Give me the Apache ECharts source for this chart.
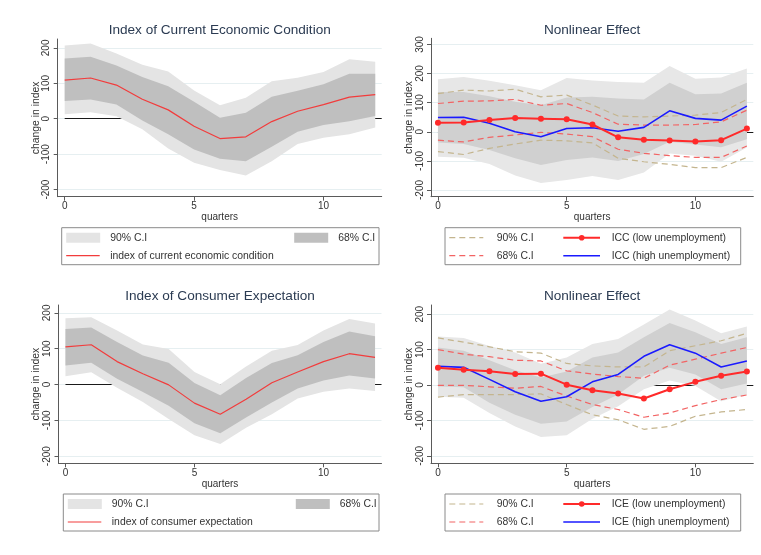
<!DOCTYPE html>
<html>
<head>
<meta charset="utf-8">
<script src="https://cdn.jsdelivr.net/npm/echarts@6/dist/echarts.min.js"></script>
<style>
  html, body { margin: 0; padding: 0; background: #fff; }
  #chart { width: 761px; height: 555px; }
</style>
</head>
<body>
<div id="chart"></div>
<script>
// Horizon (quarters after the shock) and axis tick values
const quarters = [0, 1, 2, 3, 4, 5, 6, 7, 8, 9, 10, 11, 12];
const xTicks = [0, 5, 10];
const yTicks = [-200, -100, 0, 100, 200];
const yTicksWide = [-200, -100, 0, 100, 200, 300];

// Index of current economic condition: linear response with 68% / 90% bands
const iccMean = [109, 115, 95, 55, 25, -21, -56, -51, -8, 21, 40, 61, 68];
const iccHi68 = [170, 175, 150, 118, 92, 48, 3, 17, 62, 79, 97, 127, 127];
const iccLo68 = [50, 54, 40, -5, -44, -87, -113, -120, -79, -37, -18, -7, 8];
const iccHi90 = [207, 212, 184, 152, 133, 80, 38, 59, 106, 116, 132, 168, 161];
const iccLo90 = [13, 18, 7, -30, -84, -124, -145, -160, -120, -71, -54, -44, -25];

// Index of consumer expectation: linear response with 68% / 90% bands
const iceMean = [105, 111, 64, 30, -1, -52, -83, -41, 5, 35, 64, 86, 76];
const iceHi68 = [155, 159, 119, 81, 61, 4, -30, 18, 60, 82, 119, 148, 135];
const iceLo68 = [53, 61, 16, -21, -59, -108, -136, -92, -50, -11, 11, 25, 17];
const iceHi90 = [185, 188, 151, 112, 99, 35, 1, 50, 94, 110, 151, 183, 170];
const iceLo90 = [23, 34, -9, -49, -96, -142, -166, -121, -83, -39, -20, -11, -18];

// ICC by unemployment regime
const iccLow = [31, 32, 40, 47, 45, 43, 25, -19, -27, -30, -33, -29, 11];
const iccLowHi90 = [131, 143, 140, 146, 120, 126, 92, 54, 51, 54, 57, 66, 111];
const iccLowLo90 = [-68, -78, -57, -42, -29, -31, -38, -91, -103, -112, -123, -123, -88];
const iccLowHi68 = [97, 105, 106, 111, 91, 97, 66, 26, 23, 23, 25, 34, 74];
const iccLowLo68 = [-29, -35, -19, -11, -2, -8, -17, -60, -74, -82, -88, -88, -49];
const iccHigh = [49, 50, 29, 0, -17, 11, 14, 2, 15, 72, 46, 40, 88];
const iccHighHi68 = [137, 137, 122, 103, 91, 118, 120, 114, 111, 168, 129, 131, 168];
const iccHighLo68 = [-37, -42, -63, -91, -114, -97, -88, -100, -76, -34, -44, -53, -26];
const iccHighHi90 = [180, 188, 175, 160, 143, 185, 176, 171, 168, 226, 182, 186, 217];
const iccHighLo90 = [-86, -89, -111, -150, -176, -166, -152, -166, -140, -75, -82, -103, -54];

// ICE by unemployment regime
const iceLow = [49, 43, 39, 31, 32, 1, -15, -24, -38, -12, 9, 26, 38];
const iceLowHi90 = [133, 121, 108, 94, 90, 61, 54, 51, 51, 97, 111, 125, 146];
const iceLowLo90 = [-34, -27, -27, -27, -25, -55, -84, -98, -125, -117, -88, -76, -69];
const iceLowHi68 = [100, 87, 80, 70, 68, 40, 31, 24, 19, 56, 73, 90, 106];
const iceLowLo68 = [-1, -1, -5, -9, -4, -31, -55, -69, -91, -79, -58, -41, -28];
const iceHigh = [53, 50, 16, -19, -46, -33, 9, 30, 81, 114, 90, 51, 68];
const iceHighHi68 = [106, 97, 70, 42, 21, 38, 78, 92, 135, 175, 149, 116, 135];
const iceHighLo68 = [-4, -6, -50, -84, -109, -103, -62, -27, 26, 49, 30, -12, 4];
const iceHighHi90 = [137, 133, 110, 92, 60, 78, 116, 130, 171, 213, 182, 146, 165];
const iceHighLo90 = [-33, -36, -79, -117, -147, -142, -95, -60, -12, 13, -3, -46, -27];

// Text
const panelTitles = ['Index of Current Economic Condition', 'Nonlinear Effect',
                     'Index of Consumer Expectation', 'Nonlinear Effect'];
const ciLabels = ['90% C.I', '68% C.I'];
const linearNames = ['index of current economic condition', 'index of consumer expectation'];
const regimeNames = [['ICC (low unemployment)', 'ICC (high unemployment)'],
                     ['ICE (low unemployment)', 'ICE (high unemployment)']];
const xName = 'quarters';
const yName = 'change in index';

const FONT = '"Liberation Sans", Arial, sans-serif';
const C = {
  light: '#e4e4e4', dark: '#bfbfbf',
  lightNL: '#e7e7e7', darkNL: '#d0d0d0',
  red: '#ff2a2a', lineRed: '#f23c3c', blue: '#1a1aff',
  sand: '#c4b58e', pink: '#f26464',
  axis: '#5a5a5a', text: '#333333', title: '#2b3b52', grid: '#e6eff1'
};
const DASH = [6, 4];

// Plot regions
const grids = [
  { left: 57.7, top: 39, width: 324, height: 157.7 },
  { left: 431, top: 38.3, width: 322.3, height: 158.4 },
  { left: 58.5, top: 305, width: 323, height: 158.3 },
  { left: 431, top: 305, width: 322.3, height: 158.3 }
];
const yRanges = [[-220, 225], [-223, 321], [-220, 222], [-221, 226]];
const X_MIN = -0.27, X_MAX = 12.25;

const xAxes = grids.map((g, i) => ({
  type: 'value', gridIndex: i, min: X_MIN, max: X_MAX,
  name: xName, nameLocation: 'middle', nameGap: 15,
  nameTextStyle: { fontSize: 10, color: C.text, fontFamily: FONT },
  axisLine: { show: true, onZero: false, lineStyle: { color: C.axis, width: 1 } },
  axisTick: { show: true, customValues: xTicks, length: 4, lineStyle: { color: C.axis } },
  axisLabel: { customValues: xTicks, fontSize: 10, color: C.text, fontFamily: FONT, margin: 5 },
  splitLine: { show: false }
}));

const yAxes = grids.map((g, i) => {
  const ticks = i === 1 ? yTicksWide : yTicks;
  return {
    type: 'value', gridIndex: i, min: yRanges[i][0], max: yRanges[i][1],
    name: yName, nameLocation: 'middle', nameGap: 15, nameRotate: 90,
    nameTextStyle: { fontSize: 10.4, color: C.text, fontFamily: FONT },
    axisLine: { show: true, onZero: false, lineStyle: { color: C.axis, width: 1 } },
    axisTick: { show: true, customValues: ticks, length: 4, lineStyle: { color: C.axis } },
    axisLabel: { customValues: ticks, rotate: 90, fontSize: 10, color: C.text, fontFamily: FONT, margin: 6 },
    splitLine: { show: true, lineStyle: { color: C.grid, width: 1 } }
  };
});

// Shaded confidence band as one polygon between lower and upper bounds
function band(gi, lower, upper, color, z) {
  return {
    type: 'custom', xAxisIndex: gi, yAxisIndex: gi, z: z, silent: true,
    data: quarters.map((q, i) => [q, lower[i], upper[i]]),
    encode: { x: 0, y: [1, 2] },
    renderItem: function (params, api) {
      if (params.dataIndex !== 0) return;
      const top = quarters.map((q, i) => api.coord([q, upper[i]]));
      const bottom = quarters.map((q, i) => api.coord([q, lower[i]])).reverse();
      return { type: 'polygon', shape: { points: top.concat(bottom) }, style: { fill: color } };
    }
  };
}

function line(gi, values, color, width, dashed, dots) {
  return {
    type: 'line', xAxisIndex: gi, yAxisIndex: gi, z: dashed ? 4 : 5, silent: true,
    data: quarters.map((q, i) => [q, values[i]]),
    showSymbol: !!dots, symbol: 'circle', symbolSize: 6,
    itemStyle: { color: color },
    lineStyle: { color: color, width: width, type: dashed ? DASH : 'solid' }
  };
}

// Horizontal reference line at zero, drawn beneath the bands
function zeroLine(gi) {
  return {
    type: 'line', xAxisIndex: gi, yAxisIndex: gi, z: 1, silent: true, data: [],
    markLine: {
      z: 1, silent: true, symbol: 'none', label: { show: false },
      lineStyle: { color: '#1a1a1a', width: 1, type: 'solid' },
      data: [[{ coord: [0, 0] }, { coord: [X_MAX, 0] }]]
    }
  };
}

const series = [
  zeroLine(0),
  band(0, iccLo90, iccHi90, C.light, 2),
  band(0, iccLo68, iccHi68, C.dark, 3),
  line(0, iccMean, C.lineRed, 1.2, false, false),

  zeroLine(1),
  band(1, iccHighLo90, iccHighHi90, C.lightNL, 2),
  band(1, iccHighLo68, iccHighHi68, C.darkNL, 3),
  line(1, iccLowHi90, C.sand, 1.2, true, false),
  line(1, iccLowLo90, C.sand, 1.2, true, false),
  line(1, iccLowHi68, C.pink, 1.2, true, false),
  line(1, iccLowLo68, C.pink, 1.2, true, false),
  line(1, iccHigh, C.blue, 1.6, false, false),
  line(1, iccLow, C.red, 2, false, true),

  zeroLine(2),
  band(2, iceLo90, iceHi90, C.light, 2),
  band(2, iceLo68, iceHi68, C.dark, 3),
  line(2, iceMean, C.lineRed, 1.2, false, false),

  zeroLine(3),
  band(3, iceHighLo90, iceHighHi90, C.lightNL, 2),
  band(3, iceHighLo68, iceHighHi68, C.darkNL, 3),
  line(3, iceLowHi90, C.sand, 1.2, true, false),
  line(3, iceLowLo90, C.sand, 1.2, true, false),
  line(3, iceLowHi68, C.pink, 1.2, true, false),
  line(3, iceLowLo68, C.pink, 1.2, true, false),
  line(3, iceHigh, C.blue, 1.6, false, false),
  line(3, iceLow, C.red, 2, false, true)
];

// Titles and legend boxes
const graphic = [];
const titleY = [30, 30, 296, 296];
grids.forEach((g, i) => {
  graphic.push({
    type: 'text', x: g.left + g.width / 2, y: titleY[i], silent: true,
    style: { text: panelTitles[i], fill: C.title, font: '13.6px ' + FONT, textAlign: 'center', textVerticalAlign: 'middle' }
  });
});

function txt(x, y, s) {
  return { type: 'text', x: x, y: y, silent: true,
    style: { text: s, fill: C.text, font: '10.4px ' + FONT, textAlign: 'left', textVerticalAlign: 'middle' } };
}
function seg(x1, x2, y, color, width, dashed) {
  return { type: 'line', silent: true, shape: { x1: x1, y1: y, x2: x2, y2: y },
    style: { stroke: color, lineWidth: width, lineDash: dashed ? DASH : null } };
}
function box(x, y, w, h) {
  return { type: 'rect', silent: true, shape: { x: x, y: y, width: w, height: h },
    style: { fill: '#fff', stroke: '#8a8a8a', lineWidth: 1 } };
}

function linearLegend(x0, y0, w, name) {
  const r1 = y0 + 10, r2 = y0 + 28;
  graphic.push(box(x0, y0, w, 37));
  graphic.push({ type: 'rect', silent: true, shape: { x: x0 + 4.5, y: r1 - 5, width: 34, height: 10 }, style: { fill: C.light } });
  graphic.push(txt(x0 + 48.5, r1, ciLabels[0]));
  graphic.push({ type: 'rect', silent: true, shape: { x: x0 + 232.5, y: r1 - 5, width: 34, height: 10 }, style: { fill: C.dark } });
  graphic.push(txt(x0 + 276.5, r1, ciLabels[1]));
  graphic.push(seg(x0 + 4.5, x0 + 38, r2, C.lineRed, 1.2, false));
  graphic.push(txt(x0 + 48.5, r2, name));
}

function regimeLegend(x0, y0, names) {
  const r1 = y0 + 10, r2 = y0 + 28;
  graphic.push(box(x0, y0, 295.7, 37));
  graphic.push(seg(x0 + 4.3, x0 + 38.3, r1, C.sand, 1.2, true));
  graphic.push(txt(x0 + 51.7, r1, ciLabels[0]));
  graphic.push(seg(x0 + 4.3, x0 + 38.3, r2, C.pink, 1.2, true));
  graphic.push(txt(x0 + 51.7, r2, ciLabels[1]));
  graphic.push(seg(x0 + 118.3, x0 + 155, r1, C.red, 2, false));
  graphic.push({ type: 'circle', silent: true, shape: { cx: x0 + 136.7, cy: r1, r: 2.8 }, style: { fill: C.red } });
  graphic.push(txt(x0 + 166.7, r1, names[0]));
  graphic.push(seg(x0 + 118.3, x0 + 155, r2, C.blue, 1.6, false));
  graphic.push(txt(x0 + 166.7, r2, names[1]));
}

linearLegend(61.7, 227.7, 317.3, linearNames[0]);
regimeLegend(445, 227.7, regimeNames[0]);
linearLegend(63.3, 494, 315.7, linearNames[1]);
regimeLegend(445, 494, regimeNames[1]);

const chart = echarts.init(document.getElementById('chart'), null, { renderer: 'canvas' });
chart.setOption({
  animation: false,
  backgroundColor: '#ffffff',
  textStyle: { fontFamily: FONT },
  grid: grids.map(g => Object.assign({ containLabel: false }, g)),
  xAxis: xAxes,
  yAxis: yAxes,
  series: series,
  graphic: graphic
});
</script>
</body>
</html>
